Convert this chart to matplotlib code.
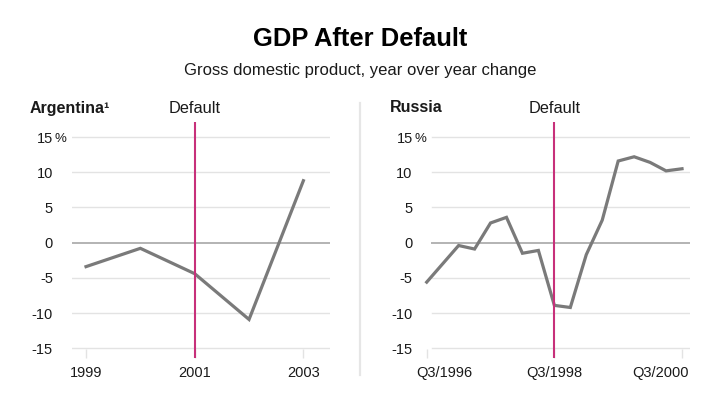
import matplotlib
matplotlib.use('Agg')
from matplotlib import pyplot as plt
from matplotlib.lines import Line2D
import matplotlib.transforms as mtransforms

plt.rcParams['font.family'] = ['Liberation Sans', 'DejaVu Sans']

# Argentina, annual GDP yoy %
arg_years = [1999, 2000, 2001, 2002, 2003]
arg_gdp = [-3.4, -0.8, -4.4, -10.9, 8.8]
arg_ticks = [1999, 2001, 2003]
arg_default = 2001

# Russia, quarterly GDP yoy %, Q3/1996 .. Q3/2000
rus_quarters = ['Q3/1996', 'Q4/1996', 'Q1/1997', 'Q2/1997', 'Q3/1997', 'Q4/1997',
                'Q1/1998', 'Q2/1998', 'Q3/1998', 'Q4/1998', 'Q1/1999', 'Q2/1999',
                'Q3/1999', 'Q4/1999', 'Q1/2000', 'Q2/2000', 'Q3/2000']
rus_gdp = [-5.6, -3.0, -0.4, -0.9, 2.8, 3.6, -1.5, -1.1, -8.9, -9.2,
           -1.7, 3.2, 11.6, 12.2, 11.4, 10.2, 10.5]
rus_ticks = ['Q3/1996', 'Q3/1998', 'Q3/2000']
rus_default = 'Q3/1998'

yticks = [-15, -10, -5, 0, 5, 10, 15]

LINE = '#7a7a7a'
PINK = '#c7307a'
GRID = '#e3e3e3'
ZERO = '#b3b3b3'
TXT = '#1a1a1a'

W, H = 720, 399
fig = plt.figure(figsize=(7.2, 3.99), dpi=100)


def px(x0, y0, x1, y1):
    return [x0 / W, 1 - y1 / H, (x1 - x0) / W, (y1 - y0) / H]


def style(ax, name, xlim, grid_from, ypad_px, name_x_px):
    ax.set_xlim(*xlim)
    ax.set_ylim(-16.33, 17.18)
    for s in ax.spines.values():
        s.set_visible(False)
    ax.set_yticks(yticks)
    ax.set_yticklabels([str(v) for v in yticks])
    for v in yticks:
        ax.axhline(v, xmin=grid_from, color=ZERO if v == 0 else GRID,
                   lw=1.4 if v == 0 else 1.0, zorder=0)
    pad = ypad_px * 0.72
    ax.tick_params(axis='y', length=0, pad=pad, labelsize=10.5, labelcolor=TXT)
    ax.tick_params(axis='x', direction='in', length=6.8, width=1.0, color=GRID,
                   pad=6, labelsize=10.5, labelcolor=TXT)
    # percent sign after the top label
    off = mtransforms.offset_copy(ax.get_yaxis_transform(), fig=fig, x=-pad + 1.2, y=0, units='points')
    ax.text(0, 15, '%', transform=off, ha='left', va='center_baseline', fontsize=9.5, color=TXT)
    fig.text(name_x_px / W, 1 - 112.5 / H, name, fontsize=11.5, fontweight='bold',
             color=TXT, ha='left', va='baseline')


def shift(label, dx_px):
    label.set_transform(label.get_transform() +
                        mtransforms.ScaledTranslation(dx_px / 100, 0, fig.dpi_scale_trans))


def default_label(ax, x):
    tr = mtransforms.blended_transform_factory(ax.transData, fig.transFigure)
    ax.text(x, 1 - 113 / H, 'Default', transform=tr, ha='center', va='baseline',
            fontsize=11.8, color=TXT)


# Argentina
ax1 = fig.add_axes(px(72, 121.7, 330, 357.7))
ax1.plot(arg_years, arg_gdp, color=LINE, lw=2.3, solid_joinstyle='miter', zorder=3)
ax1.axvline(arg_default, color=PINK, lw=1.5, zorder=4)
style(ax1, 'Argentina\u00b9', (1998.742, 2003.49), 0, 19, 30)
ax1.set_xticks(arg_ticks)
ax1.set_xticklabels([str(t) for t in arg_ticks])
default_label(ax1, arg_default)

# Russia
rx = list(range(len(rus_quarters)))
x0r = 426.7 - 0.5 * 15.96
ax2 = fig.add_axes(px(x0r, 121.7, 690, 357.7))
ax2.plot(rx, rus_gdp, color=LINE, lw=2.3, solid_joinstyle='miter', zorder=3)
ax2.axvline(rus_quarters.index(rus_default), color=PINK, lw=1.5, zorder=4)
style(ax2, 'Russia', (-0.5, 16.5), (431.7 - x0r) / (690 - x0r), 19 - (431.7 - x0r), 390)
ax2.set_xticks([rus_quarters.index(t) for t in rus_ticks])
ax2.set_xticklabels(rus_ticks)
labs = ax2.get_xticklabels()
shift(labs[0], 18)
shift(labs[-1], -22)
default_label(ax2, rus_quarters.index(rus_default))

# divider between panels
fig.add_artist(Line2D([359.5 / W, 359.5 / W], [1 - 375 / H, 1 - 103 / H],
                      color='#e6e6e6', lw=1.6, transform=fig.transFigure))

fig.text(0.5, 1 - 38.5 / H, 'GDP After Default', ha='center', va='center',
         fontsize=18.4, fontweight='bold', color='black')
fig.text(0.5, 1 - 71 / H, 'Gross domestic product, year over year change', ha='center',
         va='center', fontsize=12, color=TXT)

fig.savefig('out.png', dpi=100, facecolor='white')
